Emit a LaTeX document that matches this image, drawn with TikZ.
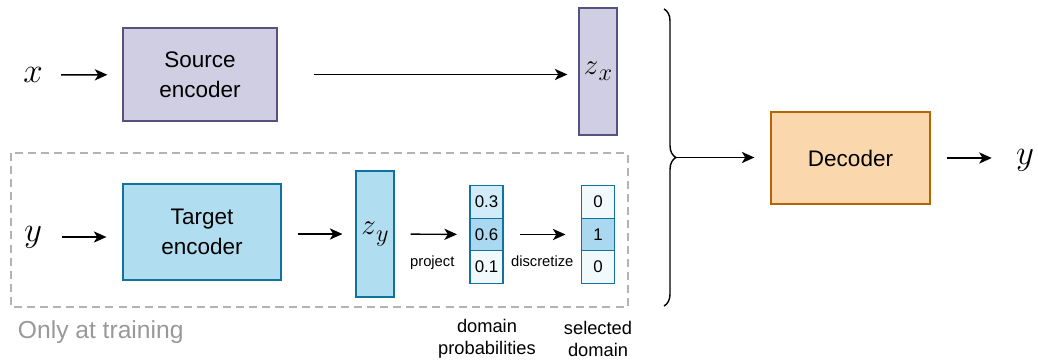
\documentclass[tikz,border=0pt]{standalone}
\usepackage{amsmath}
\usepackage{fontspec}
\setmainfont{Liberation Sans}
\usepackage{tikz}
\usetikzlibrary{positioning,decorations.pathreplacing,arrows.meta}

\definecolor{purplefill}{HTML}{D0CEE2}
\definecolor{purpleline}{HTML}{56517E}
\definecolor{bluefill}{HTML}{B1DDF0}
\definecolor{blueline}{HTML}{10739E}
\definecolor{cellhigh}{HTML}{A9D8F0}
\definecolor{cellmid}{HTML}{D2EBF8}
\definecolor{celllow}{HTML}{F2F9FD}
\definecolor{orangefill}{HTML}{FAD7AC}
\definecolor{orangeline}{HTML}{B46504}
\definecolor{dashgray}{HTML}{B3B3B3}
\definecolor{notegray}{HTML}{999999}

\newcommand{\latentsub}[2]{$#1$\raisebox{-4.5pt}{\fontsize{17}{20}\selectfont$#2$}}

\begin{document}
\begin{tikzpicture}[x=0.025cm, y=-0.025cm, >={Stealth[length=9pt, width=8pt, inset=2.5pt]},
        flow/.style={->, line width=1pt},
        block/.style={draw, line width=0.8pt, align=center, font=\fontsize{16}{21}\selectfont},
        latent/.style={draw, line width=0.8pt, minimum width=0.95cm, font=\fontsize{22}{26}\selectfont},
        cell/.style={draw=blueline, line width=0.8pt, outer sep=0pt, minimum width=0.825cm, minimum height=0.81cm, inner sep=0pt, font=\fontsize{12}{14}\selectfont},
        io/.style={inner sep=0pt, font=\fontsize{23}{27}\selectfont}]
      \tikzstyle{lab} = [font=\fontsize{10.5}{12}\selectfont, inner sep=0pt]
      \tikzstyle{caption} = [align=center, font=\fontsize{13}{15.6}\selectfont]
      \useasboundingbox (0,0) rectangle (1038,360);

      \node (xin) [io] at (33,75) {$x$};
      \node (src) [block, fill=purplefill, draw=purpleline, minimum width=3.85cm, minimum height=2.325cm] at (200,74.5) {Source\\encoder};
      \node (zx) [latent, fill=purplefill, draw=purpleline, minimum height=3.175cm] at (598,71.5) {\latentsub{z}{x}};

      \draw[dashgray, line width=1.5pt, dash pattern=on 5.7pt off 3.6pt] (11,153) rectangle (628,307);
      \node (note) [anchor=west, text=notegray, font=\fontsize{17.5}{20}\selectfont] at (13,332) {Only at training};

      \node (yin) [io] at (33,237) {$y$};
      \node (tgt) [block, fill=bluefill, draw=blueline, minimum width=3.95cm, minimum height=2.4cm] at (202,232) {Target\\encoder};
      \node (zy) [latent, fill=bluefill, draw=blueline, minimum height=3.15cm] at (375,234) {\latentsub{z}{y}};

      \node (p2) [cell, fill=cellhigh] at (486.5,234.5) {0.6};
      \node (p1) [cell, fill=cellmid, above=0pt of p2] {0.3};
      \node (p3) [cell, fill=celllow, below=0pt of p2] {0.1};
      \node (s2) [cell, fill=cellhigh] at (598,234.5) {1};
      \node (s1) [cell, fill=celllow, above=0pt of s2] {0};
      \node (s3) [cell, fill=celllow, below=0pt of s2] {0};
      \node (plab) [caption] at (487,339) {domain\\probabilities};
      \node (slab) [caption] at (598,339) {selected\\domain};

      \node (dec) [block, fill=orangefill, draw=orangeline, minimum width=3.975cm, minimum height=2.3cm] at (850.5,158) {Decoder};
      \node (yout) [io] at (1025,160) {$y$};

      \draw[decorate, decoration={brace, amplitude=0.3cm}, line width=1pt] (664,9) -- (664,306);
      \coordinate (tip) at (677,157.5);

      \draw[flow, shorten <=0.45cm, shorten >=0.375cm] (xin) -- (src);
      \draw[flow, shorten <=0.9cm, shorten >=0.275cm] (src) -- (zx.west |- src);
      \draw[flow, shorten <=0.5cm, shorten >=0.4cm] (yin) -- (yin -| tgt.west);
      \draw[flow, shorten <=0.4cm, shorten >=0.325cm] (tgt.east |- zy) -- (zy);
      \draw[flow, shorten <=0.4cm, shorten >=0.325cm] (zy) -- node[midway, below=0.52cm, lab] {project} (p2);
      \draw[flow, shorten <=0.425cm, shorten >=0.4cm] (p2) -- node[midway, below=0.52cm, lab] {discretize} (s2);
      \draw[flow, shorten >=0.4cm] (tip) -- (tip -| dec.west);
      \draw[flow, shorten <=0.4cm, shorten >=0.6cm] (dec) -- (dec.east -| yout.west);
    \end{tikzpicture}
\end{document}
